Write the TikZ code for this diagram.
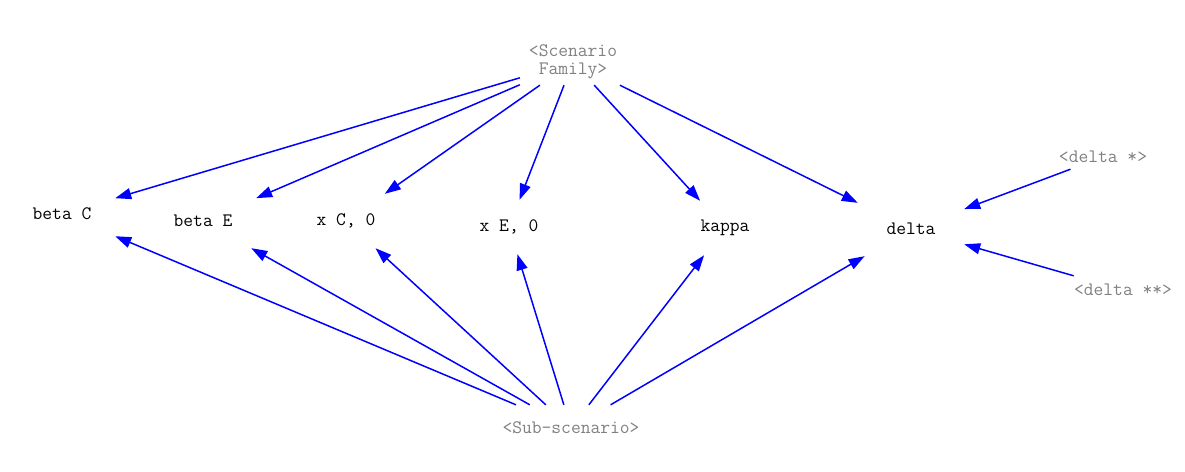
\documentclass[tikz,border=0pt]{standalone}
\usepackage{fontspec}
\usepackage{tikz}
\usetikzlibrary{arrows.meta,positioning}
\usepackage{xcolor}
\definecolor{sgblue}{RGB}{0,0,255}
\definecolor{sggray}{RGB}{128,128,128}
\tikzstyle{param} = [rectangle, minimum width=106pt, minimum height=54pt, inner sep=0pt, text centered, font=\ttfamily\fontsize{19}{18}\selectfont, text=black]
\tikzstyle{source} = [rectangle, minimum width=106pt, minimum height=46pt, inner sep=0pt, align=center, font=\ttfamily\fontsize{19}{18}\selectfont, text=sggray]
\tikzstyle{arrow} = [line width=1.5pt, -{Triangle[length=16pt,width=11pt]}, color=sgblue]

\begin{document}
\begin{tikzpicture}[x=1pt, y=-1pt]
\useasboundingbox (0,0) rectangle (1185,471);

% Sources
\node (family) [source] at (573,62) {<Scenario\\Family>};
\node (sub) [source] at (571,428) {<Sub-scenario>};
\node (dstar) [source, minimum height=24pt] at (1103,157) {<delta *>};
\node (dstarstar) [source, minimum height=28pt] at (1123,290) {<delta **>};

% Parameters
\node (betaC) [param] at (62,214) {beta C};
\node (betaE) [param] at (203,221) {beta E};
\node (xC) [param] at (346,221) {x C, 0};
\node (xE) [param] at (509,227) {x E, 0};
\node (kappa) [param] at (725,228) {kappa};
\node (delta) [param] at (911,229) {delta};

% From scenario family
\draw[arrow] (family) -- (betaC);
\draw[arrow] (family) -- (betaE);
\draw[arrow] (family) -- (xC);
\draw[arrow] (family) -- (xE);
\draw[arrow] (family) -- (kappa);
\draw[arrow] (family) -- (delta);

% From sub-scenario
\draw[arrow] (sub) -- (betaC);
\draw[arrow] (sub) -- (betaE);
\draw[arrow] (sub) -- (xC);
\draw[arrow] (sub) -- (xE);
\draw[arrow] (sub) -- (kappa);
\draw[arrow] (sub) -- (delta);

% Delta variants
\draw[arrow] (dstar) -- (delta);
\draw[arrow] (dstarstar) -- (delta);
\end{tikzpicture}
\end{document}
